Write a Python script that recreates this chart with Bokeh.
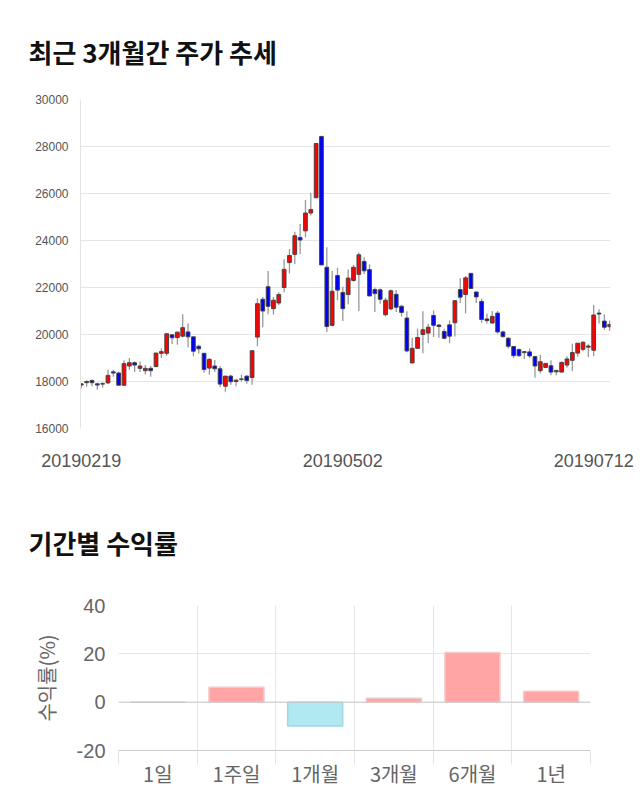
from bokeh.plotting import figure
from bokeh.layouts import column
from bokeh.models import ColumnDataSource, FixedTicker, Range1d, Span
from bokeh.embed import file_html
from bokeh.resources import INLINE

# ---- price data (daily candles) ----
opens = [17850, 17950, 18040, 17900, 17890, 17940, 18410, 18360, 17840, 18660,
         18800, 18560, 18460, 18560, 18640, 19200, 19200, 19990, 19870, 19930,
         20110, 19900, 19500, 19200, 18570, 18660, 18540, 17800, 18230, 18000,
         18090, 18230, 18170, 19890, 21500, 22030, 21100, 21340, 22000, 23060,
         23410, 24130, 24410, 25170, 25820, 28430, 22860, 20390, 22510, 21790,
         21700, 22300, 22560, 23110, 22760, 21910, 21900, 20840, 21090, 21710,
         21200, 20700, 18790, 19410, 20000, 20060, 20810, 20400, 20130, 20410,
         20500, 21910, 21700, 22600, 21810, 21410, 20660, 20490, 20910, 20110,
         19840, 19490, 19360, 19270, 19260, 19060, 18460, 18600, 18670, 18410,
         18400, 18700, 18900, 19210, 19370, 19460, 19330, 20910, 20570, 20330]
highs = [17920, 18050, 18080, 17950, 17970, 18500, 18500, 18430, 18900, 19000,
         18850, 18850, 18700, 18660, 19210, 19400, 20050, 20000, 20120, 20860,
         20470, 19900, 19560, 19200, 19000, 18910, 18660, 18230, 18290, 18060,
         18290, 18260, 19310, 21530, 21600, 22700, 21600, 21800, 23200, 23630,
         24370, 24700, 25720, 26030, 28130, 28430, 23710, 22700, 22840, 22030,
         22770, 22960, 23490, 23290, 22990, 22000, 21960, 21560, 21910, 21890,
         21270, 20990, 19860, 20240, 20990, 20460, 21030, 20460, 20240, 20600,
         21440, 22390, 22490, 22600, 21810, 21530, 20890, 21000, 21000, 20160,
         19890, 19500, 19400, 19300, 19400, 19100, 19140, 18770, 18900, 18500,
         18860, 19070, 19610, 19630, 19710, 19610, 21260, 21070, 20860, 20600]
lows = [17700, 17780, 17800, 17650, 17750, 17900, 18200, 17840, 17840, 18500,
        18400, 18400, 18300, 18200, 18600, 19000, 19100, 19600, 19560, 19870,
        19460, 19070, 19190, 18370, 18290, 18400, 17760, 17560, 17860, 17800,
        18000, 17900, 17860, 19500, 20310, 20860, 20840, 21240, 21800, 22600,
        23000, 23410, 24130, 25060, 25800, 22960, 20110, 20340, 21460, 20570,
        21290, 22240, 21000, 22570, 21640, 20960, 21310, 20770, 21030, 20960,
        20770, 19240, 18790, 19390, 19200, 19640, 19890, 19860, 19800, 19630,
        19910, 21340, 20890, 21960, 21340, 20500, 20470, 20460, 20030, 19860,
        19400, 19000, 19040, 18960, 19000, 18160, 18340, 18600, 18270, 18270,
        18400, 18590, 18440, 19060, 19290, 19040, 19070, 20470, 20200, 20150]
closes = [17900, 18000, 17950, 17850, 17910, 18260, 18360, 17840, 18760, 18800,
          18700, 18660, 18560, 18460, 19210, 19270, 20030, 19860, 20100, 20290,
          19900, 19290, 19390, 18510, 18940, 18540, 17890, 18230, 17990, 18060,
          18110, 18040, 19310, 21310, 21000, 21200, 21460, 21700, 22770, 23360,
          24200, 24020, 25170, 25320, 28130, 22960, 20340, 21840, 21890, 21100,
          22400, 22860, 23390, 22710, 21640, 21740, 21500, 21460, 21860, 21160,
          20940, 19300, 19410, 19870, 20200, 20310, 20390, 20340, 19840, 19930,
          21440, 21590, 22410, 21960, 21600, 20640, 20590, 20770, 20110, 19910,
          19500, 19100, 19100, 19230, 19090, 18660, 18840, 18770, 18400, 18470,
          18810, 18960, 19230, 19630, 19670, 19510, 20830, 20870, 20310, 20430]
date_ticks = [0, 49, 96]
date_labels = ["20190219", "20190502", "20190712"]
price_ticks = [16000, 18000, 20000, 22000, 24000, 26000, 28000, 30000]

# ---- period returns ----
periods = ["1일", "1주일", "1개월", "3개월", "6개월", "1년"]
returns = [0.0, 6.2, -9.9, 1.6, 20.6, 4.5]
return_ticks = [-20, 0, 20, 40]
return_labels = ["-20", "0", "20", "40"]

KR = "Noto Sans CJK KR"

# ================= candle chart =================
idx = list(range(len(opens)))
src = ColumnDataSource(dict(
    x=idx,
    high=highs,
    low=lows,
    top=[max(o, c) for o, c in zip(opens, closes)],
    bottom=[min(o, c) for o, c in zip(opens, closes)],
    color=["#ff0000" if c >= o else "#0000ff" for o, c in zip(opens, closes)],
))

p1 = figure(width=640, height=475, x_range=Range1d(-0.15, 99.15),
            y_range=Range1d(16000, 30000), output_backend="svg",
            toolbar_location=None, min_border_left=80, min_border_right=30,
            min_border_top=99, min_border_bottom=47, frame_align=False)
p1.title.text = "최근 3개월간 주가 추세"
p1.title.text_font = KR
p1.title.text_font_size = "26px"
p1.title.text_font_style = "bold"
p1.title.text_color = "#111111"
p1.title.align = "left"
p1.title.offset = -52
p1.title.standoff = 59
p1.outline_line_color = None

p1.segment(x0="x", y0="low", x1="x", y1="high", source=src,
           line_color="#999999", line_width=1.3)
p1.vbar(x="x", width=0.7, top="top", bottom="bottom", source=src,
        fill_color="color", line_color="#444444", line_width=1)

p1.xgrid.grid_line_color = None
p1.ygrid.ticker = FixedTicker(ticks=price_ticks)
p1.ygrid.grid_line_color = "#e6e6e6"
p1.yaxis.ticker = FixedTicker(ticks=price_ticks)
p1.yaxis.axis_line_color = "#e3e3e3"
p1.yaxis.major_tick_line_color = None
p1.yaxis.minor_tick_line_color = None
p1.yaxis.major_label_standoff = 6
p1.yaxis.major_label_text_font = "Liberation Sans"
p1.yaxis.major_label_text_font_size = "12px"
p1.yaxis.major_label_text_color = "#555555"

p1.xaxis.ticker = FixedTicker(ticks=date_ticks)
p1.xaxis.major_label_overrides = {t: l for t, l in zip(date_ticks, date_labels)}
p1.xaxis.axis_line_color = None
p1.xaxis.major_tick_line_color = None
p1.xaxis.minor_tick_line_color = None
p1.xaxis.major_label_standoff = 19
p1.xaxis.major_label_text_font = "Liberation Sans"
p1.xaxis.major_label_text_font_size = "18px"
p1.xaxis.major_label_text_color = "#555555"

# ================= returns chart =================
centers = [i + 0.5 for i in range(len(periods))]
bsrc = ColumnDataSource(dict(
    x=centers,
    top=returns,
    fill=["#ffa5a5" if r >= 0 else "#b1e9f2" for r in returns],
    line=["#c8c8c8" if r == 0 else ("#f3c9c9" if r > 0 else "#a3d6e0") for r in returns],
))

p2 = figure(width=640, height=335, x_range=Range1d(0, len(periods)),
            y_range=Range1d(-20, 40), output_backend="svg",
            toolbar_location=None, min_border_left=118, min_border_right=50,
            min_border_top=130, min_border_bottom=60, frame_align=False)
p2.title.text = "기간별 수익률"
p2.title.text_font = KR
p2.title.text_font_size = "26px"
p2.title.text_font_style = "bold"
p2.title.text_color = "#111111"
p2.title.align = "left"
p2.title.offset = -90
p2.title.standoff = 89
p2.outline_line_color = None

p2.vbar(x="x", width=0.7, top="top", bottom=0, source=bsrc,
        fill_color="fill", line_color="line", line_width=1.5)

p2.ygrid.ticker = FixedTicker(ticks=return_ticks)
p2.ygrid.grid_line_color = "#e6e6e6"
p2.xgrid.ticker = FixedTicker(ticks=list(range(len(periods) + 1)))
p2.xgrid.grid_line_color = "#e6e6e6"
p2.add_layout(Span(location=0, dimension="width", line_color="#c8c8c8", line_width=1))

p2.yaxis.ticker = FixedTicker(ticks=return_ticks)
p2.yaxis.major_label_overrides = {t: l for t, l in zip(return_ticks, return_labels)}
p2.yaxis.axis_line_color = None
p2.yaxis.major_tick_line_color = None
p2.yaxis.minor_tick_line_color = None
p2.yaxis.major_label_standoff = 7
p2.yaxis.major_label_text_font = "Liberation Sans"
p2.yaxis.major_label_text_font_size = "20px"
p2.yaxis.major_label_text_color = "#666666"
p2.yaxis.axis_label = "수익률(%)"
p2.yaxis.axis_label_text_font = KR
p2.yaxis.axis_label_text_font_size = "20px"
p2.yaxis.axis_label_text_font_style = "normal"
p2.yaxis.axis_label_text_color = "#666666"
p2.yaxis.axis_label_standoff = 13

p2.xaxis.ticker = FixedTicker(ticks=centers, minor_ticks=list(range(len(periods) + 1)))
p2.xaxis.major_label_overrides = {c: n for c, n in zip(centers, periods)}
p2.xaxis.axis_line_color = "#cccccc"
p2.xaxis.major_tick_line_color = None
p2.xaxis.minor_tick_line_color = "#e6e6e6"
p2.xaxis.minor_tick_in = 0
p2.xaxis.minor_tick_out = 14
p2.xaxis.major_label_standoff = -6
p2.xaxis.major_label_text_font = KR
p2.xaxis.major_label_text_font_size = "20px"
p2.xaxis.major_label_text_color = "#666666"

layout = column(p1, p2)
open("out.html", "w").write(file_html(layout, INLINE))
